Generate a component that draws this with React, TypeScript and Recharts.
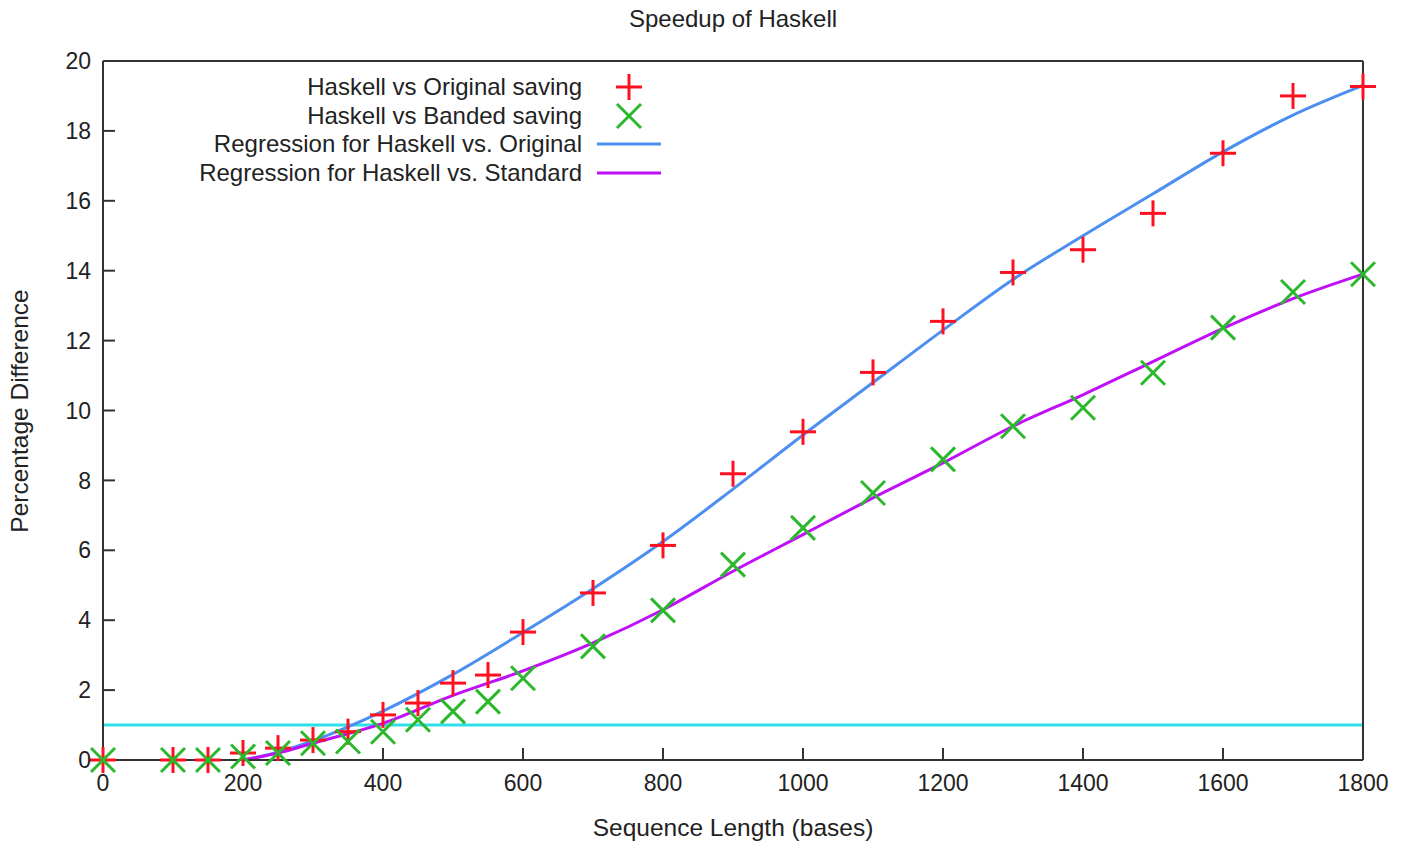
import React from 'react';
import { ComposedChart, Line, Scatter, XAxis, YAxis, ReferenceLine } from 'recharts';

// sample points (sequence length in bases)
const lengths = [0, 100, 150, 200, 250, 300, 350, 400, 450, 500, 550, 600, 700, 800, 900, 1000, 1100, 1200, 1300, 1400, 1500, 1600, 1700, 1800];
const originalSaving = [0, 0, 0, 0.2, 0.34, 0.57, 0.81, 1.29, 1.63, 2.2, 2.43, 3.66, 4.78, 6.14, 8.19, 9.39, 11.09, 12.55, 13.95, 14.6, 15.64, 17.36, 19.0, 19.27];
const bandedSaving = [0, 0, 0, 0.1, 0.2, 0.48, 0.53, 0.81, 1.15, 1.39, 1.67, 2.34, 3.25, 4.28, 5.59, 6.64, 7.64, 8.6, 9.55, 10.08, 11.08, 12.37, 13.39, 13.9];

// regression curves
const fitLengths = [200, 250, 300, 350, 400, 500, 600, 700, 800, 900, 1000, 1100, 1200, 1300, 1400, 1500, 1600, 1700, 1800];
const fitOriginal = [0, 0.22, 0.55, 0.95, 1.4, 2.45, 3.65, 4.9, 6.25, 7.75, 9.3, 10.8, 12.3, 13.75, 15.0, 16.2, 17.4, 18.45, 19.3];
const fitStandard = [0, 0.2, 0.48, 0.75, 1.05, 1.85, 2.55, 3.35, 4.3, 5.4, 6.45, 7.5, 8.5, 9.55, 10.45, 11.4, 12.35, 13.2, 13.9];

const threshold = 1;
const xTicks = [0, 200, 400, 600, 800, 1000, 1200, 1400, 1600, 1800];
const yTicks = [0, 2, 4, 6, 8, 10, 12, 14, 16, 18, 20];

const RED = '#ff1020';
const GREEN = '#2cb82c';
const BLUE = '#4d8ff0';
const PURPLE = '#c010f8';
const CYAN = '#2ee0e6';
const AXIS = '#333333';
const FONT = '"Liberation Sans", Arial, sans-serif';

const origPts = lengths.map((x, i) => ({ x, y: originalSaving[i] }));
const bandPts = lengths.map((x, i) => ({ x, y: bandedSaving[i] }));
const origFit = fitLengths.map((x, i) => ({ x, y: fitOriginal[i] }));
const stdFit = fitLengths.map((x, i) => ({ x, y: fitStandard[i] }));

const Plus = (props: any) => {
  const { cx, cy } = props;
  const s = 13;
  return (
    <g stroke={RED} strokeWidth={3}>
      <line x1={cx - s} y1={cy} x2={cx + s} y2={cy} />
      <line x1={cx} y1={cy - s} x2={cx} y2={cy + s} />
    </g>
  );
};

const Cross = (props: any) => {
  const { cx, cy } = props;
  const s = 12;
  return (
    <g stroke={GREEN} strokeWidth={3}>
      <line x1={cx - s} y1={cy - s} x2={cx + s} y2={cy + s} />
      <line x1={cx - s} y1={cy + s} x2={cx + s} y2={cy - s} />
    </g>
  );
};

const legendRows = [
  { label: 'Haskell vs Original saving', kind: 'plus' },
  { label: 'Haskell vs Banded saving', kind: 'cross' },
  { label: 'Regression for Haskell vs. Original', kind: 'line', color: BLUE },
  { label: 'Regression for Haskell vs. Standard', kind: 'line', color: PURPLE },
];

const ChartLegend = () => (
  <div style={{ position: 'absolute', left: 134, top: 65, width: 520 }}>
    {legendRows.map((r) => (
      <div key={r.label} style={{ display: 'flex', alignItems: 'center', height: 28.5, justifyContent: 'flex-end' }}>
        <span style={{ fontSize: 24, color: '#222', marginRight: 14, whiteSpace: 'nowrap' }}>{r.label}</span>
        <svg width={66} height={28}>
          {r.kind === 'plus' && <Plus cx={33} cy={14} />}
          {r.kind === 'cross' && <Cross cx={33} cy={14} />}
          {r.kind === 'line' && <line x1={1} y1={14} x2={65} y2={14} stroke={r.color} strokeWidth={3} />}
        </svg>
      </div>
    ))}
  </div>
);

export default function App() {
  const tickStyle = { fontSize: 23, fill: '#222' };
  return (
    <div style={{ position: 'relative', width: 1403, height: 837, fontFamily: FONT, background: '#fff' }}>
      <div style={{ position: 'absolute', top: -3, left: 725, transform: 'translateX(-50%)', fontSize: 24, color: '#222', whiteSpace: 'nowrap' }}>
        Speedup of Haskell
      </div>
      <ComposedChart width={1403} height={837} margin={{ top: 52, right: 47, bottom: 84, left: 94 }}>
        <XAxis dataKey="x" type="number" domain={[0, 1800]} ticks={xTicks} height={1}
          stroke={AXIS} strokeWidth={2} tickSize={-12} tickMargin={27} tick={tickStyle} />
        <XAxis xAxisId="top" orientation="top" dataKey="x" type="number" domain={[0, 1800]} ticks={xTicks} height={1}
          stroke={AXIS} strokeWidth={2} tickSize={-12} tickFormatter={() => ''} />
        <YAxis type="number" domain={[0, 20]} ticks={yTicks} width={1}
          stroke={AXIS} strokeWidth={2} tickSize={-12} tickMargin={24} tick={tickStyle} />
        <YAxis yAxisId="right" orientation="right" type="number" domain={[0, 20]} ticks={yTicks} width={1}
          stroke={AXIS} strokeWidth={2} tickSize={-12} tickFormatter={() => ''} />
        <ReferenceLine y={threshold} stroke={CYAN} strokeWidth={3} />
        <Line data={origFit} dataKey="y" type="monotone" stroke={BLUE} strokeWidth={3} dot={false} isAnimationActive={false} />
        <Line data={stdFit} dataKey="y" type="monotone" stroke={PURPLE} strokeWidth={3} dot={false} isAnimationActive={false} />
        <Scatter data={origPts} dataKey="y" shape={<Plus />} isAnimationActive={false} />
        <Scatter data={bandPts} dataKey="y" shape={<Cross />} isAnimationActive={false} />
      </ComposedChart>
      <ChartLegend />
      <div style={{ position: 'absolute', top: 806, left: 725, transform: 'translateX(-50%)', fontSize: 24.5, color: '#222', whiteSpace: 'nowrap' }}>
        Sequence Length (bases)
      </div>
      <div style={{ position: 'absolute', top: 403, left: 12, transform: 'translate(-50%, -50%) rotate(-90deg)', fontSize: 24.5, color: '#222', whiteSpace: 'nowrap' }}>
        Percentage Difference
      </div>
    </div>
  );
}
